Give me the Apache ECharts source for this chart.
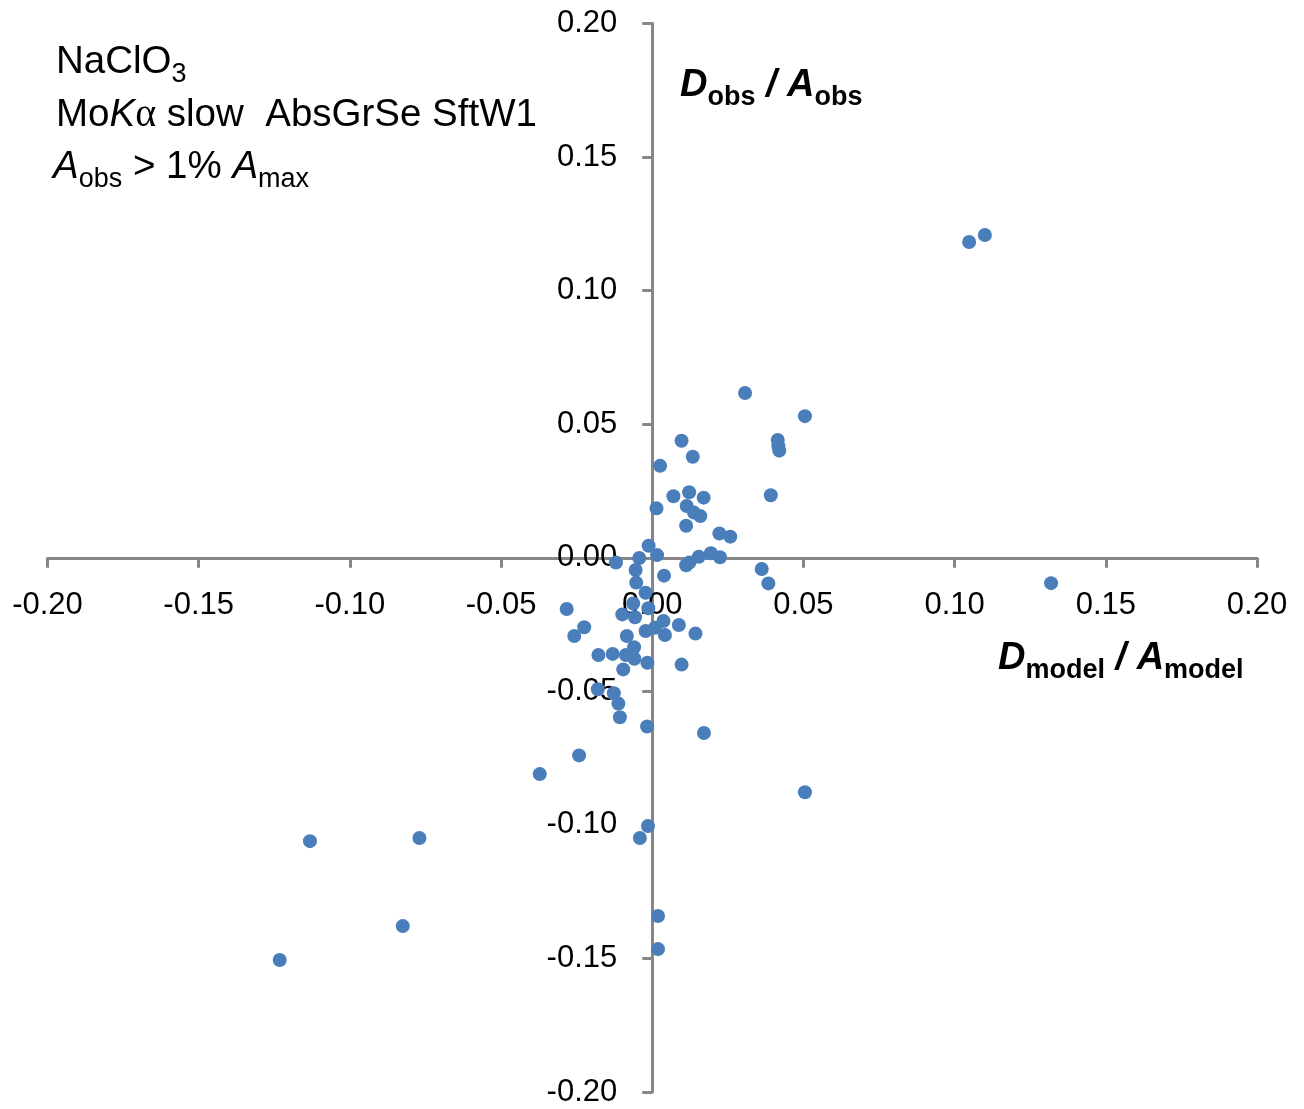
<!DOCTYPE html>
<html>
<head>
<meta charset="utf-8">
<script src="https://cdn.jsdelivr.net/npm/echarts@6/dist/echarts.min.js"></script>
<style>
html,body{margin:0;padding:0;background:#fff;}
#chart{width:1304px;height:1109px;}
</style>
</head>
<body>
<div id="chart"></div>
<script>
// D_model / A_model (x) and D_obs / A_obs (y)
var xVals = [0.1048, 0.1100, 0.0307, 0.0505, 0.0415, 0.0417, 0.0420, 0.0392, 0.0097, 0.0134,
  0.0026, 0.0070, 0.0122, 0.0170, 0.0014, 0.0114, 0.0138, 0.0159, 0.0112, 0.0222,
  0.0258, -0.0012, 0.0016, -0.0043, -0.0120, -0.0055, -0.0053, -0.0022, 0.0039, 0.0112,
  0.0123, 0.0154, 0.0194, 0.0224, 0.0362, 0.0384, 0.1319, -0.0283, -0.0225, -0.0258,
  -0.0063, -0.0013, -0.0099, -0.0057, 0.0037, 0.0009, 0.0088, -0.0022, 0.0042, 0.0143,
  -0.0084, -0.0060, -0.0178, -0.0131, -0.0087, -0.0059, -0.0016, 0.0097, -0.0096, -0.0180,
  -0.0127, -0.0112, -0.0107, -0.0017, 0.0171, -0.0242, -0.0372, 0.0505, -0.0014, -0.0041,
  -0.0770, -0.1132, 0.0019, 0.0019, -0.0825, -0.1232];
var yVals = [0.1182, 0.1208, 0.0617, 0.0530, 0.0441, 0.0418, 0.0401, 0.0234, 0.0438, 0.0378,
  0.0344, 0.0230, 0.0245, 0.0225, 0.0185, 0.0194, 0.0169, 0.0156, 0.0120, 0.0091,
  0.0079, 0.0045, 0.0010, -0.0001, -0.0018, -0.0046, -0.0093, -0.0131, -0.0067, -0.0028,
  -0.0018, 0.0004, 0.0017, 0.0002, -0.0042, -0.0096, -0.0095, -0.0192, -0.0260, -0.0293,
  -0.0171, -0.0189, -0.0212, -0.0223, -0.0237, -0.0262, -0.0252, -0.0274, -0.0289, -0.0284,
  -0.0293, -0.0335, -0.0364, -0.0360, -0.0364, -0.0378, -0.0393, -0.0400, -0.0418, -0.0492,
  -0.0507, -0.0546, -0.0597, -0.0632, -0.0656, -0.0740, -0.0810, -0.0878, -0.1004, -0.1049,
  -0.1049, -0.1061, -0.1341, -0.1465, -0.1379, -0.1506];
var axisMin = -0.20, axisMax = 0.20, axisStep = 0.05;

var points = xVals.map(function (x, i) { return [x, yVals[i]]; });

var FONT = 'Liberation Sans';
function fmt(v) { if (Math.abs(v) < 1e-9) return '0.00'; return v.toFixed(2); }

var W = 1304, H = 1109;
var G = {left: 47.5, right: 47, top: 23.5, bottom: 17};

var chart = echarts.init(document.getElementById('chart'), null, {renderer: 'canvas'});

function axisOpt(extra, margin) {
  var o = {
    type: 'value', min: axisMin, max: axisMax, interval: axisStep,
    splitLine: {show: false},
    axisLine: {show: true, onZero: false, lineStyle: {color: '#868686', width: 3}},
    axisTick: {show: true, inside: false, length: 10, lineStyle: {color: '#868686', width: 3}},
    axisLabel: {formatter: fmt, color: '#000', fontFamily: FONT, fontSize: 31, margin: margin}
  };
  return Object.assign(o, extra);
}

var mainT = {fontFamily: FONT, fontSize: 38, fontWeight: 'bold', fontStyle: 'italic', lineHeight: 46, verticalAlign: 'bottom', color: '#000'};
var subT = {fontFamily: FONT, fontSize: 27, fontWeight: 'bold', height: 14, lineHeight: 14, verticalAlign: 'bottom', color: '#000'};
var annM = {fontFamily: FONT, fontSize: 38.5, lineHeight: 44, verticalAlign: 'bottom', color: '#000'};
var annI = {fontFamily: FONT, fontSize: 38.5, fontStyle: 'italic', lineHeight: 44, verticalAlign: 'bottom', color: '#000'};
var annG = {fontFamily: 'Liberation Serif', fontSize: 40, lineHeight: 44, verticalAlign: 'bottom', color: '#000'};
var annS = {fontFamily: FONT, fontSize: 27, height: 14, lineHeight: 14, verticalAlign: 'bottom', color: '#000'};

var option = {
  animation: false,
  backgroundColor: '#fff',
  grid: {left: G.left, right: G.right, top: G.top, bottom: G.bottom, containLabel: false, outerBoundsMode: 'none'},
  xAxis: axisOpt({position: 'bottom', offset: 0}, 32),
  yAxis: axisOpt({position: 'left', offset: 0}, 35),
  series: [{
    type: 'scatter',
    data: points,
    symbol: 'circle',
    symbolSize: 14,
    itemStyle: {color: '#4A7EBB', opacity: 1},
    z: 5
  }],
  graphic: [
    {type: 'text', left: 56, top: 43, z: 10,
      style: {text: '{m|NaClO}{s|3}', rich: {m: annM, s: annS}}},
    {type: 'text', left: 56, top: 95, z: 10,
      style: {text: '{m|Mo}{i|K}{g|α}{m| slow  AbsGrSe SftW1}', rich: {m: annM, i: annI, g: annG}}},
    {type: 'text', left: 53, top: 148, z: 10,
      style: {text: '{i|A}{s|obs}{m| > 1% }{i|A}{s|max}', rich: {m: annM, i: annI, s: annS}}},
    {type: 'text', left: 680, top: 67, z: 10,
      style: {text: '{m|D}{s|obs}{m| / A}{s|obs}', rich: {m: mainT, s: subT}}},
    {type: 'text', left: 998, top: 640, z: 10,
      style: {text: '{m|D}{s|model}{m| / A}{s|model}', rich: {m: mainT, s: subT}}}
  ]
};
chart.setOption(option);

// Put both axes through the origin (Excel-style crossing at 0,0), labels included.
var zero = chart.convertToPixel({gridIndex: 0}, [0, 0]);
var gridBottomY = H - G.bottom;
var gridLeftX = G.left;
chart.setOption({
  xAxis: {offset: -(gridBottomY - zero[1])},
  yAxis: {offset: -(zero[0] - gridLeftX)}
});
</script>
</body>
</html>
